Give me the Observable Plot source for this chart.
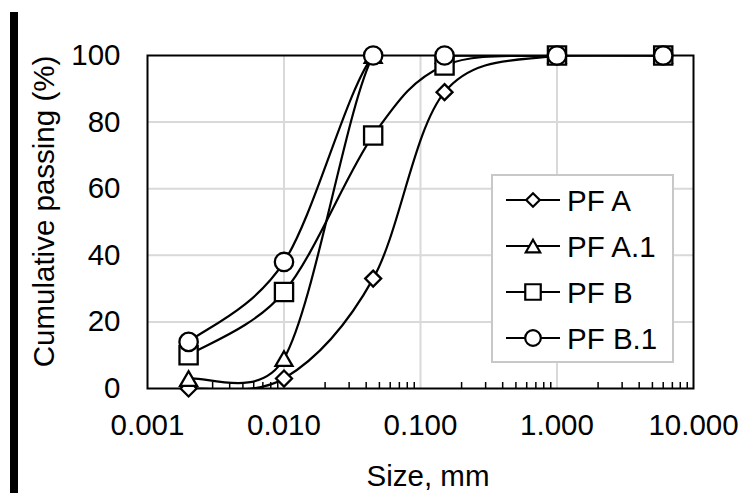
<!DOCTYPE html>
<html>
<head>
<meta charset="utf-8">
<script src="https://cdn.jsdelivr.net/npm/d3@7"></script>
<script src="https://cdn.jsdelivr.net/npm/@observablehq/plot@0.6"></script>
<style>
  body { margin: 0; background: #fff; }
  #wrap { position: relative; width: 742px; height: 493px; overflow: hidden; font-family: "Liberation Sans", Arial, sans-serif; }
  #bar { position: absolute; left: 10px; top: 12px; width: 8px; height: 481px; background: #000; }
  #wrap svg { position: absolute; left: 0; top: 0; }
</style>
</head>
<body>
<div id="wrap"><div id="bar"></div></div>
<script>
// Particle size (mm) at which each sample was measured
const sizes = [0.002, 0.01, 0.045, 0.15, 1, 6];

// Cumulative passing (%) per sample
const pfA  = [0, 3, 33, 89, 100, 100];
const pfA1 = [3, 9, 100, 100, 100, 100];
const pfB  = [10, 29, 76, 97, 100, 100];
const pfB1 = [14, 38, 100, 100, 100, 100];

const seriesNames = ["PF A", "PF A.1", "PF B", "PF B.1"];
const xTicks = [0.001, 0.01, 0.1, 1, 10];
const yTicks = [0, 20, 40, 60, 80, 100];

// minor log ticks (2..9 in each decade)
const minorTicks = [0.001, 0.01, 0.1, 1].flatMap(d => [2, 3, 4, 5, 6, 7, 8, 9].map(m => d * m));

const W = 742, H = 493;
const mL = 147, mR = 49, mT = 55, mB = 105;
const font = "Liberation Sans, Arial, sans-serif";
const fs = 29.5;

// Spreadsheet-style smoothed line: cubic Bézier segments whose control
// points follow the neighbouring points (1/6 of the chord) but never reach
// further than half of the segment they belong to.
function curveSmooth(context) {
  let pts = [];
  const ctrl = (a, b, d) => {
    const vx = b[0] - a[0], vy = b[1] - a[1];
    const len = Math.hypot(vx, vy);
    if (!len) return [0, 0];
    let f = 1 / 6;
    if (len * f > d / 2) f = d / (2 * len);
    return [vx * f, vy * f];
  };
  return {
    areaStart() {}, areaEnd() {},
    lineStart() { pts = []; },
    point(x, y) { pts.push([+x, +y]); },
    lineEnd() {
      const n = pts.length;
      if (!n) return;
      context.moveTo(pts[0][0], pts[0][1]);
      for (let i = 0; i < n - 1; i++) {
        const p0 = pts[Math.max(i - 1, 0)], p1 = pts[i], p2 = pts[i + 1], p3 = pts[Math.min(i + 2, n - 1)];
        const d = Math.hypot(p2[0] - p1[0], p2[1] - p1[1]);
        const t1 = ctrl(p0, p2, d), t2 = ctrl(p1, p3, d);
        context.bezierCurveTo(p1[0] + t1[0], p1[1] + t1[1], p2[0] - t2[0], p2[1] - t2[1], p2[0], p2[1]);
      }
    }
  };
}

// marker style for each series (open symbols)
const markers = [
  {symbol: "diamond2", r: 7.2, dy: 0},
  {symbol: "triangle2", r: 8.1, dy: 2.5},
  {symbol: "square2", r: 11.6, dy: 0},
  {symbol: "circle", r: 9.2, dy: 0}
];

const series = [pfA, pfA1, pfB, pfB1].map((vals, k) => ({
  name: seriesNames[k],
  rows: sizes.map((s, i) => ({size: s, pass: vals[i]})),
  ...markers[k]
}));

const marks = [
  Plot.gridX(xTicks.slice(1, -1), {stroke: "#d9d9d9", strokeOpacity: 1, strokeWidth: 2}),
  Plot.gridY(yTicks.slice(1, -1), {stroke: "#d9d9d9", strokeOpacity: 1, strokeWidth: 2}),
  Plot.tickX(minorTicks, {x: d => d, stroke: "#000", strokeWidth: 1.5, insetTop: (H - mT - mB) - 6}),
  Plot.frame({stroke: "#000", strokeWidth: 2}),
  Plot.axisX(xTicks, {tickSize: 0, tickPadding: 26, tickFormat: d3.format(".3f"), fontSize: fs, label: null}),
  Plot.axisY(yTicks, {tickSize: 0, tickPadding: 27, fontSize: fs, label: null}),
  ...series.flatMap(s => [
    Plot.line(s.rows, {x: "size", y: "pass", curve: curveSmooth, stroke: "#000", strokeWidth: 2.2, clip: true}),
    Plot.dot(s.rows, {x: "size", y: "pass", symbol: s.symbol, r: s.r, dy: s.dy, fill: "#fff", stroke: "#000", strokeWidth: 2.3})
  ])
];

const chart = Plot.plot({
  width: W,
  height: H,
  marginLeft: mL,
  marginRight: mR,
  marginTop: mT,
  marginBottom: mB,
  style: {fontFamily: font, fontSize: fs + "px", color: "#000", background: "transparent", overflow: "visible"},
  x: {type: "log", domain: [0.001, 10], axis: null},
  y: {domain: [0, 100], axis: null},
  marks
});

document.getElementById("wrap").appendChild(chart);

const svg = d3.select(chart);

// axis titles
svg.append("text")
  .attr("transform", `translate(54,${(mT + H - mB) / 2 - 10}) rotate(-90)`)
  .attr("text-anchor", "middle")
  .attr("font-size", fs)
  .attr("font-family", font)
  .attr("fill", "#000")
  .text("Cumulative passing (%)");

svg.append("text")
  .attr("x", mL + (W - mL - mR) / 2 + 8)
  .attr("y", 486)
  .attr("text-anchor", "middle")
  .attr("font-size", fs)
  .attr("font-family", font)
  .attr("fill", "#000")
  .text("Size, mm");

// legend box inside the plot area
const lg = svg.append("g").attr("transform", "translate(492,175)");
lg.append("rect")
  .attr("width", 181).attr("height", 187)
  .attr("fill", "#fff").attr("stroke", "#c8c8c8").attr("stroke-width", 2);

const symbolTypes = {diamond2: d3.symbolDiamond2, triangle2: d3.symbolTriangle2, square2: d3.symbolSquare2, circle: d3.symbolCircle};
series.forEach((s, i) => {
  const cy = 25 + i * 46;
  const row = lg.append("g").attr("transform", `translate(0,${cy})`);
  row.append("line").attr("x1", 14).attr("x2", 68).attr("y1", 0).attr("y2", 0)
    .attr("stroke", "#000").attr("stroke-width", 2.2);
  const rr = s.r * 0.85;
  row.append("path")
    .attr("transform", `translate(41,${s.dy * 0.85})`)
    .attr("d", d3.symbol(symbolTypes[s.symbol], rr * rr * Math.PI)())
    .attr("fill", "#fff").attr("stroke", "#000").attr("stroke-width", 2.2);
  row.append("text")
    .attr("x", 75).attr("y", 0).attr("dy", "0.36em")
    .attr("text-anchor", "start")
    .attr("font-size", fs).attr("font-family", font).attr("fill", "#000")
    .text(s.name);
});
</script>
</body>
</html>
